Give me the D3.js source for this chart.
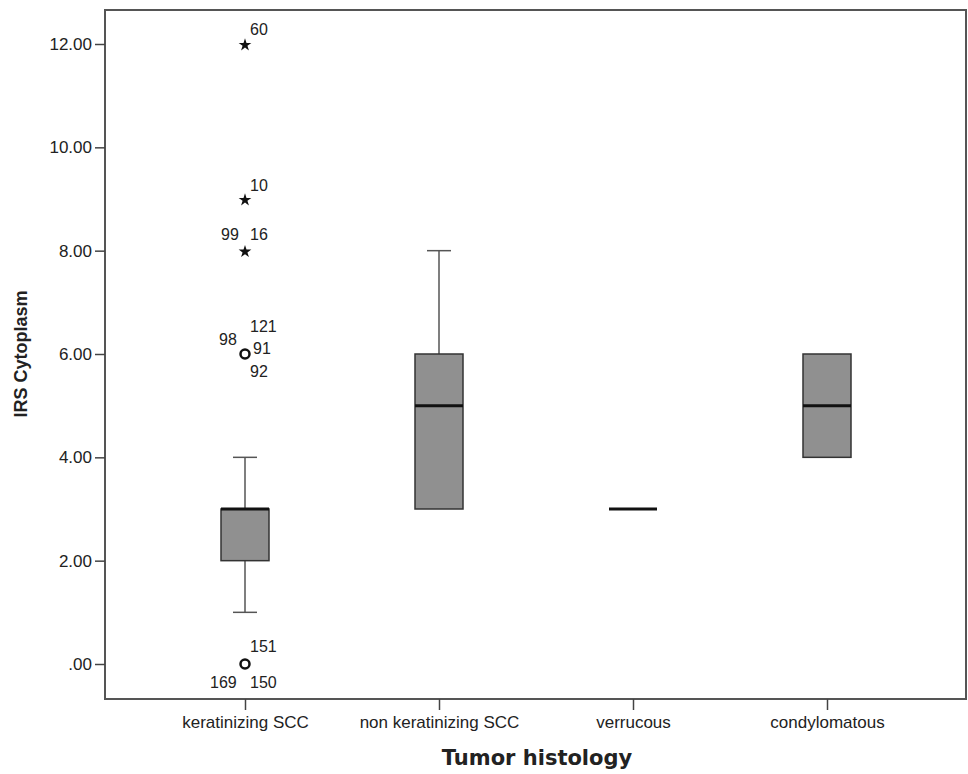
<!DOCTYPE html>
<html>
<head>
<meta charset="utf-8">
<script src="https://cdn.jsdelivr.net/npm/d3@7"></script>
<style>
  body { margin: 0; background: #fff; }
  text { font-family: Arial, "Liberation Sans", sans-serif; fill: #222; }
</style>
</head>
<body>
<div id="chart"></div>
<script>
// categories and box stats
const categories = ['keratinizing SCC', 'non keratinizing SCC', 'verrucous', 'condylomatous'];
const q1 = [2, 3, 3, 4];
const medians = [3, 5, 3, 5];
const q3 = [3, 6, 3, 6];
const whiskerLow = [1, 3, 3, 4];
const whiskerHigh = [4, 8, 3, 6];
const yTicks = [0, 2, 4, 6, 8, 10, 12];

// outliers: circles = mild, stars = extreme
const outliers = [
  { cat: 'keratinizing SCC', value: 12, kind: 'star' },
  { cat: 'keratinizing SCC', value: 9, kind: 'star' },
  { cat: 'keratinizing SCC', value: 8, kind: 'star' },
  { cat: 'keratinizing SCC', value: 6, kind: 'circle' },
  { cat: 'keratinizing SCC', value: 0, kind: 'circle' }
];
// case labels next to outliers
const caseLabels = [
  { cat: 'keratinizing SCC', value: 12, id: '60', dx: 5, dy: -15 },
  { cat: 'keratinizing SCC', value: 9, id: '10', dx: 5, dy: -14 },
  { cat: 'keratinizing SCC', value: 8, id: '99', dx: -24, dy: -16 },
  { cat: 'keratinizing SCC', value: 8, id: '16', dx: 5, dy: -16 },
  { cat: 'keratinizing SCC', value: 6, id: '121', dx: 5, dy: -28 },
  { cat: 'keratinizing SCC', value: 6, id: '98', dx: -26, dy: -15 },
  { cat: 'keratinizing SCC', value: 6, id: '91', dx: 8, dy: -6 },
  { cat: 'keratinizing SCC', value: 6, id: '92', dx: 5, dy: 17 },
  { cat: 'keratinizing SCC', value: 0, id: '151', dx: 5, dy: -18 },
  { cat: 'keratinizing SCC', value: 0, id: '169', dx: -35, dy: 18 },
  { cat: 'keratinizing SCC', value: 0, id: '150', dx: 5, dy: 18 }
];

const width = 968, height = 774;
const margin = { top: 10, right: 2, bottom: 75, left: 105 };

const svg = d3.select('#chart')
  .append('svg')
  .attr('width', width)
  .attr('height', height);

const x = d3.scalePoint()
  .domain(categories)
  .range([245, 827]);

const y = d3.scaleLinear()
  .domain([0, 12])
  .range([664, 44]);

// frame
svg.append('rect')
  .attr('x', margin.left)
  .attr('y', margin.top)
  .attr('width', width - margin.left - margin.right)
  .attr('height', height - margin.top - margin.bottom)
  .style('fill', 'none')
  .style('stroke', '#555')
  .style('stroke-width', 2);

// y axis
const yAxis = svg.append('g')
  .attr('transform', `translate(${margin.left},0)`)
  .call(d3.axisLeft(y).tickValues(yTicks).tickSize(10).tickPadding(3)
    .tickFormat(d => d === 0 ? '.00' : d3.format('.2f')(d)));
yAxis.select('.domain').remove();
yAxis.selectAll('line').style('stroke', '#444').style('stroke-width', 1.5);
yAxis.selectAll('text').style('font-size', '17px').style('fill', '#222');

// x axis
const xAxis = svg.append('g')
  .attr('transform', `translate(0,${height - margin.bottom})`)
  .call(d3.axisBottom(x).tickSize(11).tickPadding(6));
xAxis.select('.domain').remove();
xAxis.selectAll('line').style('stroke', '#444').style('stroke-width', 1.5);
xAxis.selectAll('text')
  .style('font-size', '17px')
  .style('fill', '#222');

// axis titles
svg.append('text')
  .attr('x', 537)
  .attr('y', 758)
  .attr('dy', '0.35em')
  .attr('text-anchor', 'middle')
  .style('font-size', '21px')
  .style('font-weight', 'bold')
  .style('font-family', '"DejaVu Sans", Verdana, sans-serif')
  .text('Tumor histology');

svg.append('text')
  .attr('transform', 'translate(27,354) rotate(-90)')
  .attr('text-anchor', 'middle')
  .style('font-size', '18px')
  .style('font-weight', 'bold')
  .text('IRS Cytoplasm');

// boxes
const boxW = 48, capW = 24;
const boxes = categories.map((c, i) => ({
  cat: c, q1: q1[i], med: medians[i], q3: q3[i], lo: whiskerLow[i], hi: whiskerHigh[i]
}));

const g = svg.append('g');

boxes.forEach(b => {
  const cx = x(b.cat);
  const line = (x1, y1, x2, y2, w, col) => g.append('line')
    .attr('x1', x1).attr('y1', y1).attr('x2', x2).attr('y2', y2)
    .style('stroke', col || '#555').style('stroke-width', w || 1.5);

  if (b.hi > b.q3) {
    line(cx, y(b.q3), cx, y(b.hi));
    line(cx - capW / 2, y(b.hi), cx + capW / 2, y(b.hi));
  }
  if (b.lo < b.q1) {
    line(cx, y(b.q1), cx, y(b.lo));
    line(cx - capW / 2, y(b.lo), cx + capW / 2, y(b.lo));
  }
  if (b.q3 > b.q1) {
    g.append('rect')
      .attr('x', cx - boxW / 2)
      .attr('y', y(b.q3))
      .attr('width', boxW)
      .attr('height', y(b.q1) - y(b.q3))
      .style('fill', '#909090')
      .style('stroke', '#333')
      .style('stroke-width', 1.5);
  }
  line(cx - boxW / 2, y(b.med), cx + boxW / 2, y(b.med), 3, '#111');
});

// outliers
const star = d3.symbol().type(d3.symbolStar).size(50);
outliers.forEach(o => {
  if (o.kind === 'circle') {
    g.append('circle')
      .attr('cx', x(o.cat))
      .attr('cy', y(o.value))
      .attr('r', 4.5)
      .style('fill', 'none')
      .style('stroke', '#111')
      .style('stroke-width', 2.5);
  } else {
    g.append('path')
      .attr('d', star)
      .attr('transform', `translate(${x(o.cat)},${y(o.value) + 1})`)
      .style('fill', '#111');
  }
});

g.selectAll('.case')
  .data(caseLabels)
  .enter()
  .append('text')
  .attr('class', 'case')
  .attr('x', d => x(d.cat) + d.dx)
  .attr('y', d => y(d.value) + d.dy)
  .attr('dy', '0.35em')
  .style('font-size', '16px')
  .text(d => d.id);
</script>
</body>
</html>
